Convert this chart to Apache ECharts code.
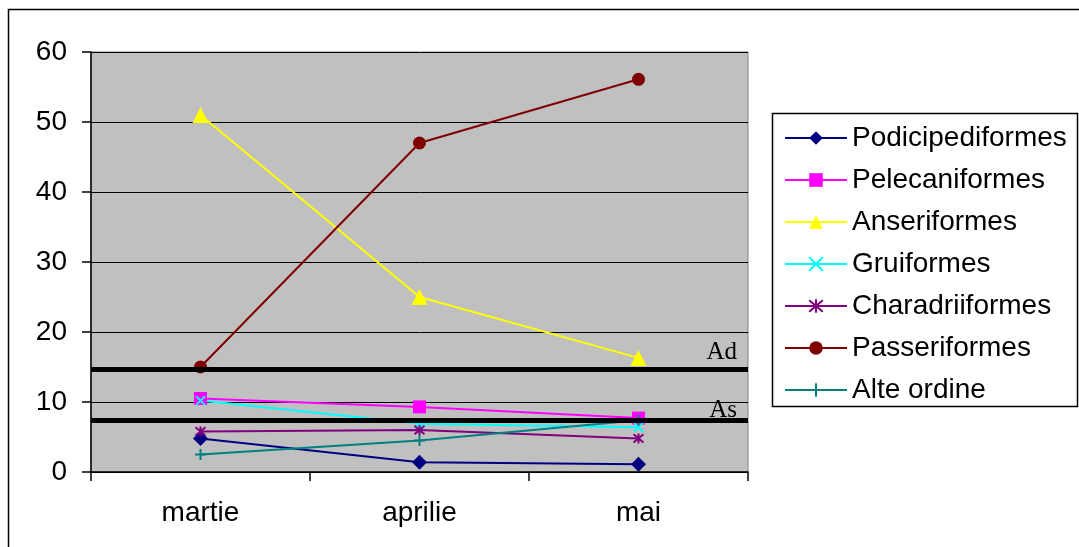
<!DOCTYPE html>
<html>
<head>
<meta charset="utf-8">
<script src="https://cdn.jsdelivr.net/npm/echarts@6/dist/echarts.min.js"></script>
<style>
  html, body { margin: 0; padding: 0; background: #fff; }
  #chart { width: 1079px; height: 547px; }
</style>
</head>
<body>
<div id="chart"></div>
<script>
// Months of observation
const months = ['martie', 'aprilie', 'mai'];

// Abundance per order (%)
const podicipediformes = [4.8, 1.4, 1.1];
const pelecaniformes = [10.5, 9.3, 7.7];
const anseriformes = [51, 25, 16.3];
const gruiformes = [10.2, 6.9, 6.4];
const charadriiformes = [5.8, 6.0, 4.8];
const passeriformes = [15.0, 47.0, 56.1];
const alteOrdine = [2.5, 4.5, 7.4];

// Dominance thresholds
const thresholdAd = 14.7;
const thresholdAs = 7.4;

const yTicks = { min: 0, max: 60, step: 10 };

const sansFont = 'Liberation Sans, Arial, sans-serif';
const serifFont = 'Liberation Serif, Times New Roman, serif';

const symX = 'path://M0,0L10,10M10,0L0,10';
const symStar = 'path://M0,0L10,10M10,0L0,10M5,-1L5,11';
const symPlus = 'path://M5,0L5,10M0,5L10,5';

function lineSeries(name, data, color, symbol, size, stroke) {
  return {
    name: name,
    type: 'line',
    data: data,
    z: 3,
    symbol: symbol,
    symbolSize: size,
    lineStyle: { color: color, width: 2 },
    itemStyle: stroke
      ? { color: color, borderColor: color, borderWidth: 2 }
      : { color: color, borderWidth: 0 },
    emphasis: { disabled: true },
    animation: false
  };
}

const chart = echarts.init(document.getElementById('chart'));
chart.setOption({
  animation: false,
  textStyle: { fontFamily: sansFont },
  graphic: [
    {
      type: 'rect', z: -10,
      shape: { x: 8.5, y: 9.5, width: 1200, height: 700 },
      style: { fill: 'none', stroke: '#000', lineWidth: 1.5 }
    },
    {
      type: 'rect', z: 0,
      shape: { x: 772.5, y: 113.5, width: 305, height: 293 },
      style: { fill: '#fff', stroke: '#000', lineWidth: 1.5 }
    }
  ],
  grid: {
    left: 91, right: 331, top: 52, bottom: 75,
    show: true, backgroundColor: '#C0C0C0', borderColor: '#808080', borderWidth: 1
  },
  legend: {
    orient: 'vertical',
    left: 784, top: 124,
    padding: 0,
    itemGap: 14,
    itemWidth: 62,
    itemHeight: 17,
    textStyle: { fontSize: 28, color: '#000', lineHeight: 28, fontFamily: sansFont },
    selectedMode: false,
    z: 5
  },
  xAxis: {
    type: 'category',
    data: months,
    boundaryGap: true,
    axisLine: { lineStyle: { color: '#000', width: 1.5 } },
    axisTick: { show: true, length: 9, lineStyle: { color: '#000', width: 1.5 } },
    axisLabel: { fontSize: 28, color: '#000', margin: 27, fontFamily: sansFont }
  },
  yAxis: {
    type: 'value',
    min: yTicks.min, max: yTicks.max, interval: yTicks.step,
    axisLine: { show: true, lineStyle: { color: '#000', width: 1.5 } },
    axisTick: { show: true, length: 9, lineStyle: { color: '#000', width: 1.5 } },
    axisLabel: { fontSize: 28, color: '#000', margin: 24, fontFamily: sansFont },
    splitLine: { show: true, lineStyle: { color: '#000', width: 1 } }
  },
  series: [
    {
      type: 'line',
      data: [],
      z: 2,
      silent: true,
      markLine: {
        symbol: 'none',
        silent: true,
        animation: false,
        lineStyle: { color: '#000', width: 5, type: 'solid' },
        label: {
          position: 'insideEndTop',
          fontFamily: serifFont,
          fontSize: 25, color: '#000'
        },
        data: [
          { yAxis: thresholdAd, label: { formatter: 'Ad', distance: [11, 4] } },
          { yAxis: thresholdAs, label: { formatter: 'As', distance: [11, -3] } }
        ]
      }
    },
    lineSeries('Podicipediformes', podicipediformes, '#000080', 'diamond', 15),
    lineSeries('Pelecaniformes', pelecaniformes, '#FF00FF', 'rect', 13),
    lineSeries('Anseriformes', anseriformes, '#FFFF00', 'triangle', 16),
    lineSeries('Gruiformes', gruiformes, '#00FFFF', symX, 9, true),
    lineSeries('Charadriiformes', charadriiformes, '#800080', symStar, 10, true),
    lineSeries('Passeriformes', passeriformes, '#800000', 'circle', 13),
    lineSeries('Alte ordine', alteOrdine, '#008080', symPlus, 11, true)
  ]
});
</script>
</body>
</html>
